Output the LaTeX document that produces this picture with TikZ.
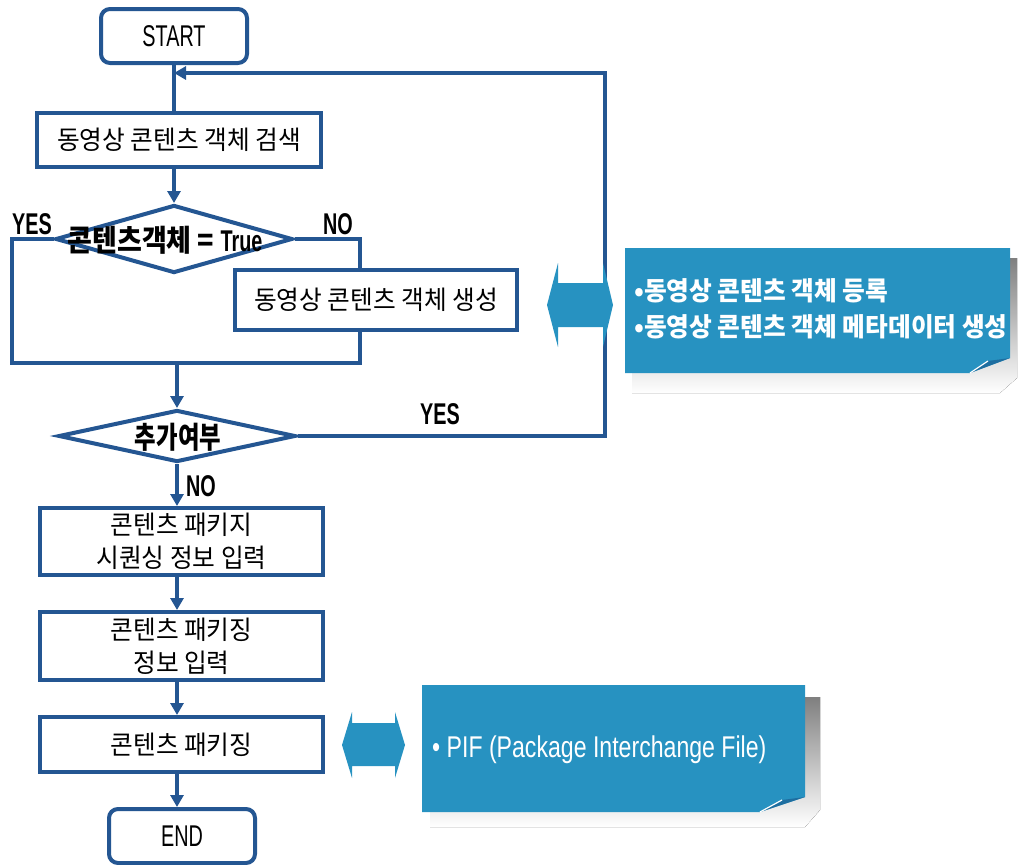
\documentclass[tikz,border=0pt]{standalone}
\usepackage{fontspec}
\usetikzlibrary{shapes.geometric,arrows.meta}
\newfontfamily\kr{Noto Sans CJK KR}[FakeStretch=0.95]
\newfontfamily\krd{Noto Sans CJK KR}[FakeStretch=0.9]
\newfontfamily\krn{Noto Sans CJK KR}[FakeStretch=0.78]
\newfontfamily\nar{Liberation Sans}[FakeStretch=0.66]
\newfontfamily\narw{Liberation Sans}[FakeStretch=0.77]
\definecolor{lineblue}{RGB}{36,86,146}
\definecolor{callblue}{RGB}{39,146,193}
\definecolor{curlblue}{RGB}{30,110,160}
\definecolor{shade}{RGB}{228,228,228}
\tikzset{
  flow/.style={draw=lineblue, line width=4pt, fill=white, inner sep=0pt},
  stepbox/.style={flow, rectangle, align=center,
    font=\kr\fontsize{26}{33}\selectfont},
  term/.style={flow, rectangle, rounded corners=9pt,
    font=\nar\fontsize{30}{34}\selectfont},
  dia/.style={flow, diamond},
  dialabel/.style={inner sep=0pt, font=\bfseries\fontsize{30}{34}\selectfont},
  conn/.style={draw=lineblue, line width=4pt},
  arr/.style={conn, -{Triangle[length=12pt,width=13pt]}},
  yn/.style={inner sep=0pt, font=\nar\bfseries\fontsize{30}{34}\selectfont},
  callout/.style={fill=callblue},
  calltext/.style={inner sep=0pt, anchor=west, align=left, text=white},
}
\begin{document}
\begin{tikzpicture}[x=1pt,y=-1pt]
\useasboundingbox (0,0) rectangle (1018,865);

% flow nodes
\node[term, minimum width=146pt, minimum height=54pt] (start) at (174,36) {START};
\node[stepbox, minimum width=284pt, minimum height=54pt] (search) at (179,140)
  {동영상 콘텐츠 객체 검색};
\node[dia, minimum width=237pt, minimum height=68pt] (d1) at (174,239) {};
\node[stepbox, minimum width=282pt, minimum height=60pt] (gen) at (376,300)
  {동영상 콘텐츠 객체 생성};
\node[dia, minimum width=237pt, minimum height=52pt] (d2) at (177,436) {};
\node[stepbox, minimum width=283pt, minimum height=67pt] (b3) at (181.5,541.5)
  {콘텐츠 패키지\\시퀀싱 정보 입력};
\node[stepbox, minimum width=283pt, minimum height=68pt] (b4) at (181.5,646)
  {콘텐츠 패키징\\정보 입력};
\node[stepbox, minimum width=283pt, minimum height=55pt] (b5) at (181.5,744.5)
  {콘텐츠 패키징};
\node[term, minimum width=146pt, minimum height=54pt] (end) at (182,836) {END};

% loop corners
\coordinate (ll) at (12,363);
\coordinate (lr) at (360,363);
\coordinate (m) at (177,363);
\coordinate (corner) at (605,73);
\coordinate (fb) at (174,73);

% connectors
\draw[conn] (start.south) -- (start.south |- search.north);
\draw[arr] (d1.north |- search.south) -- (d1.north);
\draw[conn] (d1.west) -| (ll) -- (lr) -- (gen.south -| lr);
\draw[conn] (d1.east) -| (gen.north -| lr);
\draw[arr] (m) -- (d2.north);
\draw[arr] (d2.east) -| (corner) -- (fb);
\draw[arr] (d2.south) -- (d2.south |- b3.north);
\draw[arr] (d2.south |- b3.south) -- (d2.south |- b4.north);
\draw[arr] (d2.south |- b4.south) -- (d2.south |- b5.north);
\draw[arr] (d2.south |- b5.south) -- (d2.south |- end.north);

% decision texts and branch labels
\node[dialabel] (d1t) at (165,240) {\krd 콘텐츠객체 = {\nar True}};
\node[dialabel] (d2t) at (178,437) {\krn 추가여부};
\node[yn] (yes1) at (32,224) {YES};
\node[yn] (no1) at (338,224) {NO};
\node[yn] (yes2) at (440,414) {YES};
\node[yn] (no2) at (201,486) {NO};

% upper callout
\fill[shade] (632,258) -- (1017,258) -- (1017,378) -- (1000,393) -- (632,393) -- cycle;
\fill[callout] (625,248) -- (1010,248) -- (1010,358) -- (970,373) -- (625,373) -- cycle;
\fill[curlblue] (970,373) -- (988,361) -- (1010,358) -- cycle;
\draw[white, line width=1.2pt] (970,373) -- (988,361);
\node[calltext, font=\kr\bfseries\fontsize{26}{36}\selectfont] (c1t) at (634,309)
  {•동영상 콘텐츠 객체 등록\\•동영상 콘텐츠 객체 메타데이터 생성};

% lower callout
\fill[shade] (430,697) -- (820,697) -- (820,810) -- (805,827) -- (430,827) -- cycle;
\fill[callout] (422,685) -- (805,685) -- (805,797) -- (760,812) -- (422,812) -- cycle;
\fill[curlblue] (760,812) -- (782,800) -- (805,797) -- cycle;
\draw[white, line width=1.2pt] (760,812) -- (782,800);
\node[calltext, font=\narw\fontsize{30}{34}\selectfont] (c2t) at (432,750)
  {• PIF (Package Interchange File)};

% block double arrows linking flow and callouts
\fill[callblue] (547,305) -- (558,263) -- (558,283) -- (603,283) -- (603,263)
  -- (613,305) -- (603,347) -- (603,327) -- (558,327) -- (558,347) -- cycle;
\fill[callblue] (342,745) -- (352,712) -- (352,723) -- (395,723) -- (395,712)
  -- (405,745) -- (395,778) -- (395,766) -- (352,766) -- (352,778) -- cycle;
\end{tikzpicture}
\end{document}
